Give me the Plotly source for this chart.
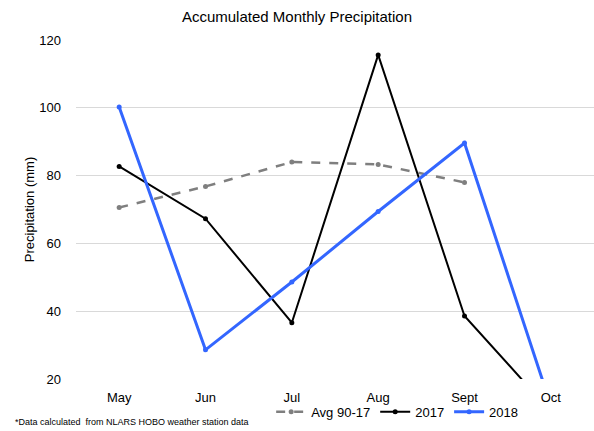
import plotly.graph_objects as go

months = ["May", "Jun", "Jul", "Aug", "Sept", "Oct"]
avg_90_17 = [70.6, 76.8, 84.0, 83.3, 78.0]
y2017 = [82.7, 67.3, 36.6, 115.6, 38.6, 10.4]
y2018 = [100.2, 28.6, 48.6, 69.4, 89.6, 12.2]

font = "Liberation Sans, Arial, sans-serif"

fig = go.Figure()
fig.add_trace(go.Scatter(x=months[:5], y=avg_90_17, mode="lines+markers", name="Avg 90-17",
                         line=dict(color="#7f7f7f", width=2.5, dash="dash"),
                         marker=dict(size=5, color="#7f7f7f")))
fig.add_trace(go.Scatter(x=months, y=y2017, mode="lines+markers", name="2017",
                         line=dict(color="#000000", width=2),
                         marker=dict(size=5, color="#000000")))
fig.add_trace(go.Scatter(x=months, y=y2018, mode="lines+markers", name="2018",
                         line=dict(color="#3366ff", width=3),
                         marker=dict(size=5, color="#3366ff")))

fig.update_layout(
    width=594, height=431,
    margin=dict(l=76, r=0, t=40, b=52),
    paper_bgcolor="white", plot_bgcolor="white",
    font=dict(family=font, size=13, color="#000000"),
    title=dict(text="Accumulated Monthly Precipitation", x=0.5, xanchor="center",
               y=0.961, yanchor="middle", font=dict(size=15)),
    xaxis=dict(range=[-0.5, 5.5], showgrid=False, showline=False, ticks="",
               tickfont=dict(size=13), ticklabelstandoff=9),
    yaxis=dict(range=[20, 120], dtick=20, showgrid=True, gridcolor="#d9d9d9",
               gridwidth=1, zeroline=False, showline=False, ticks="",
               tickfont=dict(size=13), ticklabelstandoff=14,
               title=dict(text="Precipitation (mm)", font=dict(size=13), standoff=1)),
    legend=dict(orientation="h", x=0.62, xanchor="center", y=-0.097, yanchor="middle",
                font=dict(size=13), itemwidth=30, tracegroupgap=0,
                bgcolor="rgba(0,0,0,0)"),
    showlegend=True,
)

fig.add_annotation(text="*Data calculated  from NLARS HOBO weather station data",
                   xref="paper", yref="paper", x=-0.1216, xanchor="left",
                   y=-0.127, yanchor="middle", showarrow=False,
                   font=dict(size=9, family=font))

fig.write_html("out.html", config={"displayModeBar": False},
               post_script="document.body.style.margin='0';")
